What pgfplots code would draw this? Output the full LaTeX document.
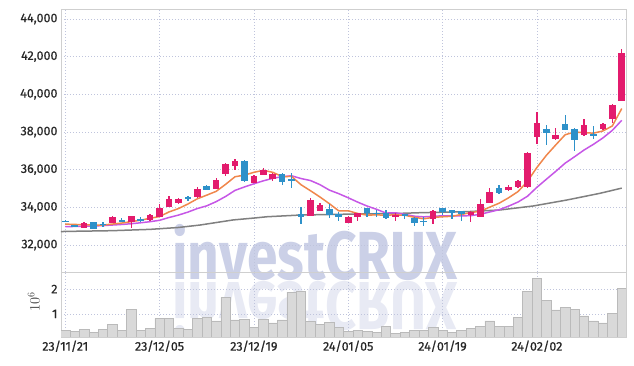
\documentclass[border=0pt]{standalone}
\usepackage{fontspec}
\setmainfont{Fira Sans}[Numbers=Proportional]
\newfontfamily\tickfont{Fira Sans}[Numbers=Proportional, FakeBold=0.6]
\newfontfamily\wmfont{Fira Sans}[FakeStretch=0.81]
\usepackage{pgfplots}
\usepackage{pgfplotstable}
\pgfplotsset{compat=1.18}
\definecolor{upc}{HTML}{E31B6D}
\definecolor{dnc}{HTML}{2E91C9}
\definecolor{maa}{HTML}{F0874C}
\definecolor{mab}{HTML}{C657E6}
\definecolor{mac}{HTML}{808080}
\definecolor{volf}{HTML}{D9D9D9}
\definecolor{vole}{HTML}{BABABA}
\definecolor{gridc}{HTML}{BFC4DC}
\definecolor{framec}{HTML}{CFCFCF}
\definecolor{wm}{HTML}{CBD0E7}
\definecolor{wmr}{HTML}{E8EAF4}

\pgfplotstableread{
i o h l c
2 32920 33220 32900 33170
5 33185 33520 33170 33490
7 33240 33560 32920 33540
9 33330 33620 33280 33580
10 33500 34200 33480 33950
11 34030 34600 34000 34440
12 34210 34480 34150 34440
14 34560 35100 34500 34970
16 34990 35550 34950 35450
17 35790 36330 35660 36300
18 36170 36550 35970 36480
20 35310 35700 35280 35660
21 35730 36070 35700 35980
22 35520 35800 35400 35770
26 33560 34470 33530 34390
27 33820 34220 33800 34120
30 33180 33520 33150 33490
31 33500 33720 33270 33680
35 33470 33700 33270 33590
39 33360 33850 33100 33800
43 33580 33780 33240 33750
44 33500 34460 33480 34160
45 34250 35040 34220 34810
47 34920 35170 34850 35060
48 35060 35450 35040 35400
49 35060 36950 35040 36870
50 37750 39080 37360 38490
52 37610 38200 37580 37840
55 37840 38680 37800 38360
57 38160 38460 38130 38430
58 38710 39460 38500 39440
59 39640 42390 39620 42210
}\upcandles

\pgfplotstableread{
i o h l c
0 33280 33320 33200 33220
1 33060 33080 32940 32950
3 33200 33220 32860 32870
4 33120 33200 32950 33080
6 33340 33420 33210 33220
8 33400 33480 33240 33260
13 34550 34620 34320 34460
15 35150 35200 34900 34920
19 36460 36520 35350 35400
23 35770 35800 35190 35360
24 35500 35800 35010 35420
25 33630 34000 33110 33460
28 33900 34180 33450 33580
29 33660 33770 33300 33500
32 33960 33980 33500 33680
33 33720 33850 33500 33640
34 33720 33850 33400 33420
36 33620 33660 33380 33560
37 33450 33470 33010 33150
38 33270 33470 33010 33230
40 33960 33990 33590 33750
41 33860 33880 33400 33690
42 33800 33820 33270 33630
46 35010 35170 34720 34750
51 38160 38390 37290 37960
53 38430 38890 38100 38110
54 38180 38220 36990 37580
56 37890 38320 37610 37790
}\dncandles

\pgfplotstableread{
i v
0 33110
1 33090
2 33080
3 33060
4 33058
5 33112
6 33166
7 33240
8 33318
9 33418
10 33510
11 33754
12 33934
13 34174
14 34452
15 34646
16 34848
17 35220
18 35624
19 35710
20 35858
21 35964
22 35858
23 35634
24 35638
25 35198
26 34880
27 34550
28 34194
29 33810
30 33816
31 33674
32 33586
33 33598
34 33582
35 33602
36 33578
37 33472
38 33390
39 33466
40 33498
41 33524
42 33620
43 33724
44 33796
45 34008
46 34220
47 34506
48 34836
49 35378
50 36114
51 36756
52 37312
53 37854
54 37996
55 37970
56 37936
57 38054
58 38320
59 39246
}\maA

\pgfplotstableread{
i v
0 32970
1 32985
2 33000
3 33010
4 33030
5 33060
6 33090
7 33130
8 33180
9 33238
10 33311
11 33460
12 33587
13 33746
14 33935
15 34078
16 34301
17 34577
18 34899
19 35081
20 35252
21 35406
22 35539
23 35629
24 35674
25 35528
26 35422
27 35204
28 34914
29 34724
30 34507
31 34277
32 34068
33 33896
34 33696
35 33709
36 33626
37 33529
38 33494
39 33524
40 33550
41 33551
42 33546
43 33557
44 33631
45 33753
46 33872
47 34063
48 34280
49 34587
50 35061
51 35488
52 35909
53 36345
54 36687
55 37042
56 37346
57 37683
58 38087
59 38621
}\maB

\pgfplotstableread{
i v
-1 32700
0 32720
5 32760
9 32830
12 32930
14.3 33060
17.8 33330
20 33430
21.4 33500
24.9 33590
29.2 33630
35.5 33680
37.7 33715
42.6 33770
46.1 33860
49.6 34070
53.2 34390
56.7 34745
59 35020
}\maC

\pgfplotstableread{
i v
0 0.35
1 0.31
2 0.39
3 0.27
4 0.39
5 0.58
6 0.35
7 1.19
8 0.35
9 0.42
10 0.82
11 0.82
12 0.42
13 0.39
14 0.82
15 0.86
16 0.72
17 1.67
18 0.76
19 0.79
20 0.46
21 0.79
22 0.64
23 0.76
24 1.88
25 1.92
26 0.70
27 0.58
28 0.66
29 0.46
30 0.31
31 0.35
32 0.31
33 0.26
34 0.50
35 0.22
36 0.26
37 0.35
38 0.35
39 0.46
40 0.35
41 0.27
42 0.35
43 0.42
44 0.50
45 0.72
46 0.51
47 0.51
48 0.86
49 1.92
50 2.44
51 1.53
52 1.16
53 1.27
54 1.19
55 0.92
56 0.72
57 0.64
58 1.03
59 2.04
}\vol

\pgfplotsset{
  base/.style={
    scale only axis, width=565bp, anchor=south west,
    xmin=-0.45, xmax=59.45,
    axis line style={draw=framec, line width=0.8bp},
    major tick length=0pt,
    grid=major,
    major grid style={draw=gridc, line width=0.7bp, dash pattern=on 1bp off 2bp},
    xtick={0,10,20,30,40,50},
    scaled ticks=false,
    tick label style={font=\tickfont\fontsize{12.5bp}{14bp}\selectfont, text=black!85},
    /pgf/number format/assume math mode=true,
  },
  wick/.style={only marks, mark=*, mark size=0pt, mark options={draw opacity=0, fill opacity=0}, forget plot,
    error bars/.cd, y dir=both, y explicit, error mark=none,
    error bar style={line width=1.3bp, line cap=butt, #1}},
  body/.style={only marks, mark=*, mark size=0pt, mark options={draw opacity=0, fill opacity=0}, forget plot,
    error bars/.cd, y dir=both, y explicit, error mark=none,
    error bar style={line width=6.6bp, line cap=butt, #1}},
}

\begin{document}
\begin{tikzpicture}
\path[use as bounding box] (0,0) rectangle (634bp,366bp);
\node[font=\wmfont\bfseries\fontsize{68bp}{68bp}\selectfont, text=wm, anchor=base, inner sep=0pt] at (315bp,86bp) {investCRUX};
\node[font=\wmfont\bfseries\fontsize{68bp}{68bp}\selectfont, text=wmr, anchor=base, inner sep=0pt, yscale=-1] at (315bp,83bp) {investCRUX};

\begin{axis}[base, at={(61bp,94bp)}, height=263bp,
  ymin=30566, ymax=44530,
  ytick={32000,34000,36000,38000,40000,42000,44000},
  yticklabel style={/pgf/number format/fixed, /pgf/number format/1000 sep={,}},
  xticklabels={},
]
\addplot[mac, line width=1.5bp] table[x=i, y=v] {\maC};
\addplot[mab, line width=1.5bp] table[x=i, y=v] {\maB};
\addplot[maa, line width=1.5bp] table[x=i, y=v] {\maA};
\addplot[wick=upc] table[x=i, y expr={(\thisrow{h}+\thisrow{l})/2}, y error expr={(\thisrow{h}-\thisrow{l})/2}] {\upcandles};
\addplot[body=upc] table[x=i, y expr={(\thisrow{o}+\thisrow{c})/2}, y error expr={abs(\thisrow{c}-\thisrow{o})/2}] {\upcandles};
\addplot[wick=dnc] table[x=i, y expr={(\thisrow{h}+\thisrow{l})/2}, y error expr={(\thisrow{h}-\thisrow{l})/2}] {\dncandles};
\addplot[body=dnc] table[x=i, y expr={(\thisrow{o}+\thisrow{c})/2}, y error expr={abs(\thisrow{c}-\thisrow{o})/2}] {\dncandles};
\end{axis}

\begin{axis}[base, at={(61bp,29bp)}, height=65bp,
  ymin=0.069, ymax=2.688,
  ytick={1,2}, yticklabels={1,2},
  xticklabels={23/11/21,23/12/05,23/12/19,24/01/05,24/01/19,24/02/02},
  ylabel={$10^{6}$},
  ylabel style={at={(axis description cs:-0.048,0.54)}, anchor=center, font=\fontsize{14bp}{16bp}\selectfont, text=black!75},
]
\addplot[ybar, bar width=1, bar shift=0pt, fill=volf, draw=vole, line width=0.6bp] table[x=i, y=v] {\vol};
\end{axis}
\end{tikzpicture}
\end{document}
